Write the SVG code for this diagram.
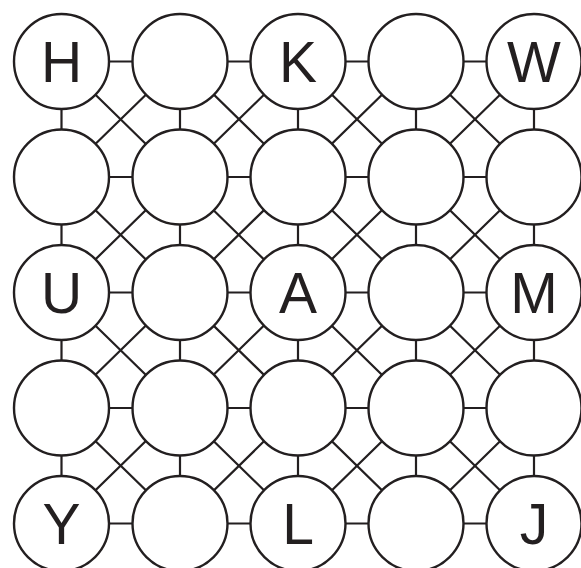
<svg xmlns="http://www.w3.org/2000/svg" width="581" height="568" viewBox="0 0 581 568">
<style>
.c{fill:#fff;stroke:#231f20;stroke-width:2.4}
.e{stroke:#231f20;stroke-width:2.2;fill:none}
.t{font-family:"Liberation Sans",Arial,sans-serif;font-size:57px;fill:#231f20;text-anchor:middle}
</style>
<rect width="581" height="568" fill="#fff"/>
<g id="connectors" class="e">
<path d="M61.5,61.5H534M61.5,177H534M61.5,292.5H534M61.5,408H534M61.5,523.5H534"/>
<path d="M61.5,61.5V523.5M180,61.5V523.5M298,61.5V523.5M416,61.5V523.5M534,61.5V523.5"/>
<path d="M61.5,61.5L534,523.5M180,61.5L534,408M298,61.5L534,292.5M416,61.5L534,177M61.5,177L416,523.5M61.5,292.5L298,523.5M61.5,408L180,523.5"/>
<path d="M534,61.5L61.5,523.5M416,61.5L61.5,408M298,61.5L61.5,292.5M180,61.5L61.5,177M534,177L180,523.5M534,292.5L298,523.5M534,408L416,523.5"/>
</g>
<g id="n00"><circle class="c" cx="61.5" cy="61.5" r="47.5"/><text class="t" x="61.5" y="82">H</text></g>
<g id="n01"><circle class="c" cx="180" cy="61.5" r="47.5"/></g>
<g id="n02"><circle class="c" cx="298" cy="61.5" r="47.5"/><text class="t" x="298" y="82">K</text></g>
<g id="n03"><circle class="c" cx="416" cy="61.5" r="47.5"/></g>
<g id="n04"><circle class="c" cx="534" cy="61.5" r="47.5"/><text class="t" x="534" y="82">W</text></g>
<g id="n10"><circle class="c" cx="61.5" cy="177" r="47.5"/></g>
<g id="n11"><circle class="c" cx="180" cy="177" r="47.5"/></g>
<g id="n12"><circle class="c" cx="298" cy="177" r="47.5"/></g>
<g id="n13"><circle class="c" cx="416" cy="177" r="47.5"/></g>
<g id="n14"><circle class="c" cx="534" cy="177" r="47.5"/></g>
<g id="n20"><circle class="c" cx="61.5" cy="292.5" r="47.5"/><text class="t" x="61.5" y="313">U</text></g>
<g id="n21"><circle class="c" cx="180" cy="292.5" r="47.5"/></g>
<g id="n22"><circle class="c" cx="298" cy="292.5" r="47.5"/><text class="t" x="298" y="313">A</text></g>
<g id="n23"><circle class="c" cx="416" cy="292.5" r="47.5"/></g>
<g id="n24"><circle class="c" cx="534" cy="292.5" r="47.5"/><text class="t" x="534" y="313">M</text></g>
<g id="n30"><circle class="c" cx="61.5" cy="408" r="47.5"/></g>
<g id="n31"><circle class="c" cx="180" cy="408" r="47.5"/></g>
<g id="n32"><circle class="c" cx="298" cy="408" r="47.5"/></g>
<g id="n33"><circle class="c" cx="416" cy="408" r="47.5"/></g>
<g id="n34"><circle class="c" cx="534" cy="408" r="47.5"/></g>
<g id="n40"><circle class="c" cx="61.5" cy="523.5" r="47.5"/><text class="t" x="61.5" y="544">Y</text></g>
<g id="n41"><circle class="c" cx="180" cy="523.5" r="47.5"/></g>
<g id="n42"><circle class="c" cx="298" cy="523.5" r="47.5"/><text class="t" x="298" y="544">L</text></g>
<g id="n43"><circle class="c" cx="416" cy="523.5" r="47.5"/></g>
<g id="n44"><circle class="c" cx="534" cy="523.5" r="47.5"/><text class="t" x="534" y="544">J</text></g>
</svg>
